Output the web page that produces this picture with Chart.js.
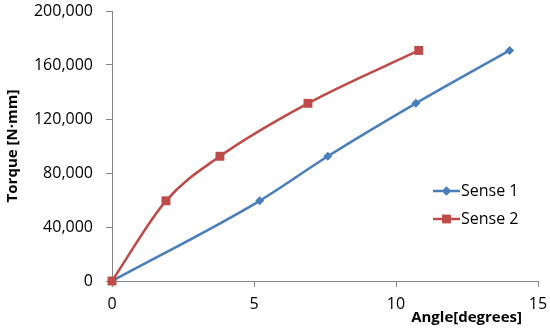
<!DOCTYPE html>
<html>
<head>
<meta charset="utf-8">
<script src="https://cdn.jsdelivr.net/npm/chart.js@4"></script>
<style>
html,body{margin:0;padding:0;background:#fff;}
#wrap{width:550px;height:332px;}
</style>
</head>
<body>
<div id="wrap"><canvas id="c" width="550" height="332"></canvas></div>
<script>
const seriesNames = ["Sense 1", "Sense 2"];
const sense1Angle = [0, 5.2, 7.6, 10.7, 14.0];
const sense1Torque = [0, 59400, 92400, 131600, 170800];
const sense2Angle = [0, 1.9, 3.8, 6.9, 10.8];
const sense2Torque = [0, 59400, 92400, 131600, 170800];
const xTicks = [0, 5, 10, 15];
const yTicks = [0, 40000, 80000, 120000, 160000, 200000];
const xTitle = "Angle[degrees]";
const yTitle = "Torque [N·mm]";

const blue = "#4A7EBB", red = "#BE4B48";
const FONT = "'Open Sans', sans-serif";

function pts(xs, ys){ return xs.map((x,i)=>({x:x, y:ys[i]})); }

const extras = {
  id: 'extras',
  afterDraw(chart){
    const ctx = chart.ctx;
    ctx.save();
    ctx.font = "bold 15px " + FONT;
    ctx.fillStyle = "#000";
    ctx.textAlign = "right";
    ctx.textBaseline = "middle";
    ctx.fillText(xTitle, 522, 318);
    const items = [
      {name: seriesNames[0], color: blue, style: 'rectRot', r: 4.5},
      {name: seriesNames[1], color: red, style: 'rect', r: 6}
    ];
    const lx = 433, ly = 191, gap = 28;
    items.forEach((it, i) => {
      const y = ly + i*gap;
      ctx.strokeStyle = it.color;
      ctx.lineWidth = 2.5;
      ctx.beginPath(); ctx.moveTo(lx, y); ctx.lineTo(lx+27, y); ctx.stroke();
      ctx.fillStyle = it.color;
      Chart.helpers.drawPoint(ctx, {pointStyle: it.style, radius: it.r, borderWidth: 0}, lx+13.5, y);
      ctx.fill();
      ctx.fillStyle = "#000";
      ctx.font = "16px " + FONT;
      ctx.textAlign = "left";
      ctx.fillText(it.name, lx+28, y);
    });
    ctx.restore();
  }
};

new Chart(document.getElementById('c'), {
  type: 'scatter',
  data: {
    datasets: [
      {
        label: seriesNames[0], data: pts(sense1Angle, sense1Torque),
        showLine: true, borderColor: blue, backgroundColor: blue, borderWidth: 2.5,
        pointStyle: 'rectRot', pointRadius: 4.5, pointBorderWidth: 0,
        cubicInterpolationMode: 'monotone', order: 1, clip: false
      },
      {
        label: seriesNames[1], data: pts(sense2Angle, sense2Torque),
        showLine: true, borderColor: red, backgroundColor: red, borderWidth: 2.5,
        pointStyle: 'rect', pointRadius: 6.3, pointBorderWidth: 0,
        cubicInterpolationMode: 'monotone', order: 0, clip: false
      }
    ]
  },
  options: {
    responsive: false,
    animation: false,
    events: [],
    layout: {padding: {top: 11, right: 12, left: 2, bottom: 0}},
    plugins: {legend: {display: false}, tooltip: {enabled: false}},
    scales: {
      x: {
        type: 'linear', min: 0, max: 15,
        afterBuildTicks(s){ s.ticks = xTicks.map(v=>({value:v})); },
        afterFit(s){ s.height = 51; s.paddingLeft = 0; s.paddingRight = 0; },
        border: {color: '#868686', width: 1},
        grid: {drawOnChartArea: false, drawTicks: true, tickLength: 6, color: '#868686'},
        ticks: {color: '#000', font: {family: FONT, size: 16}, padding: 8, maxRotation: 0},
        title: {display: false}
      },
      y: {
        type: 'linear', min: 0, max: 200000,
        afterBuildTicks(s){ s.ticks = yTicks.map(v=>({value:v})); },
        afterFit(s){ s.width = 110; s.paddingTop = 0; s.paddingBottom = 0; },
        border: {color: '#868686', width: 1},
        grid: {drawOnChartArea: false, drawTicks: true, tickLength: 6, color: '#868686'},
        ticks: {color: '#000', font: {family: FONT, size: 16}, padding: 13,
          callback: v => v.toLocaleString('en-US')},
        title: {display: true, text: yTitle, color: '#000', font: {family: FONT, size: 15, weight: 'bold'}, padding: {top: 2, bottom: 0}}
      }
    }
  },
  plugins: [extras]
});
</script>
</body>
</html>
